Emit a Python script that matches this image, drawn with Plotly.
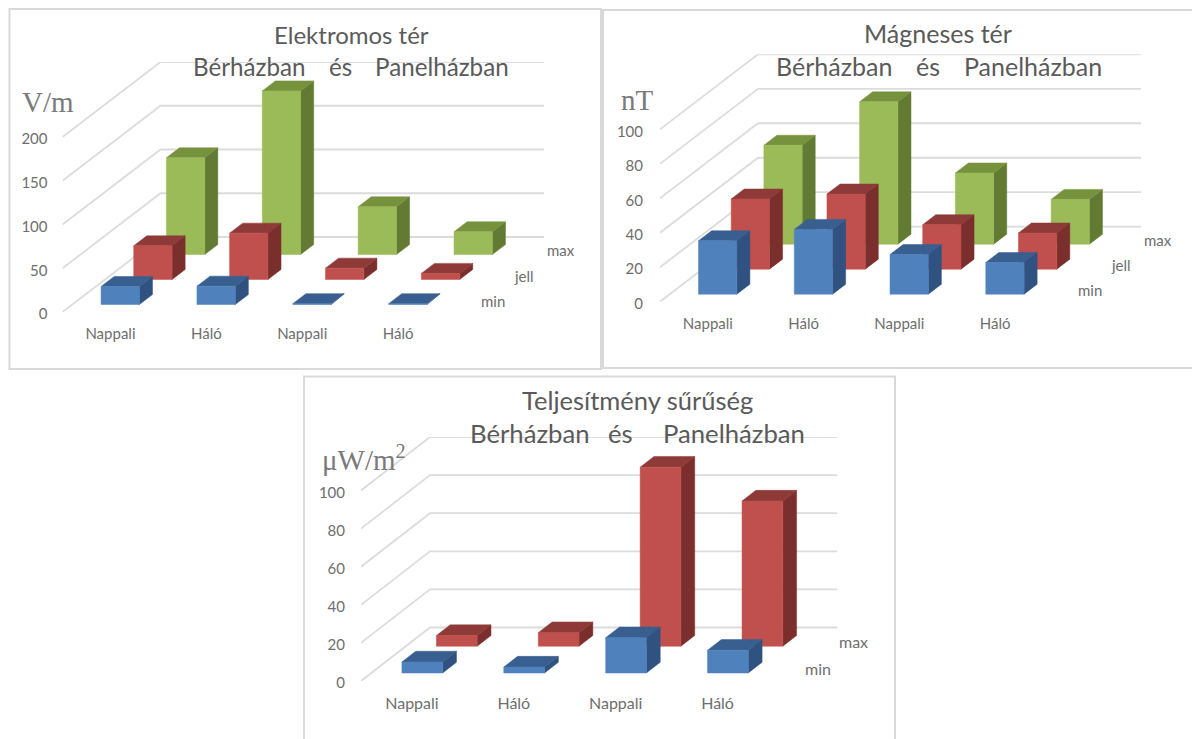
import plotly.graph_objects as go

W, H = 1192, 739
categories = ["Nappali", "Háló", "Nappali", "Háló"]

# values; series listed from front (min) to back (max)
e_min = [20.5, 21, 1, 1]
e_jell = [38.5, 53, 13, 7]
e_max = [110.5, 187, 54.5, 26]
e_ticks = [0, 50, 100, 150, 200]

m_min = [31, 37.6, 23, 18.4]
m_jell = [40.7, 43.6, 25.8, 21]
m_max = [57.4, 82.6, 41.3, 26]
m_ticks = [0, 20, 40, 60, 80, 100]

p_min = [5.8, 3.1, 18.5, 11.9]
p_max = [5.6, 7.1, 94, 76.2]
p_ticks = [0, 20, 40, 60, 80, 100]

GREY_TXT = "#6e6e6e"
TITLE_TXT = "#5a5a5a"
GRID = "#dcdcdc"
FRAME = "#d9d9d9"
SANS = "Lato"
SERIF = "Liberation Serif"

BLUE = ("#4f81bd", "#385f8f", "#2f5280")
RED = ("#c0504d", "#8e3a38", "#7b2f2d")
GREEN = ("#9bbb59", "#76923c", "#627a32")

panels = [
    dict(names=["min", "jell", "max"], colors=[BLUE, RED, GREEN], vals=[e_min, e_jell, e_max], ticks=e_ticks,
         x0=62.5, x1=544, ybase=312, ytop=62, dx=98, dy=75, vmax=200,
         cat_size=15, standoff_y=14, standoff_x=11),
    dict(names=["min", "jell", "max"], colors=[BLUE, RED, GREEN], vals=[m_min, m_jell, m_max], ticks=m_ticks,
         x0=660, x1=1141, ybase=301.7, ytop=54.3, dx=98, dy=75, vmax=100,
         cat_size=15, standoff_y=16, standoff_x=11),
    dict(names=["min", "max"], colors=[BLUE, RED], vals=[p_min, p_max], ticks=p_ticks,
         x0=361, x1=837.5, ybase=681, ytop=437, dx=69, dy=53.5, vmax=100,
         cat_size=16, standoff_y=15, standoff_x=11),
]

fig = go.Figure()
annotations = []


def poly(target, pts):
    if target:
        target.append((None, None))
    target.extend(pts)


for idx, p in enumerate(panels):
    suffix = "" if idx == 0 else str(idx + 1)
    xref, yref = "x" + suffix, "y" + suffix
    ncat = len(categories)
    slot_px = (p["x1"] - p["x0"] - p["dx"]) / ncat
    px_per_val = (p["ybase"] - p["ytop"] - p["dy"]) / p["vmax"]
    kx = p["dx"] / slot_px
    ky = p["dy"] / px_per_val

    def proj(c, v, t):
        return (c + t * kx, v + t * ky)

    # gridlines: side wall then back wall
    gx, gy = [], []
    for v in p["ticks"]:
        for pt in (proj(0, v, 0), proj(0, v, 1), proj(ncat, v, 1)):
            gx.append(pt[0])
            gy.append(pt[1])
        gx.append(None)
        gy.append(None)
    fig.add_trace(go.Scatter(x=gx, y=gy, mode="lines", xaxis=xref, yaxis=yref,
                             line=dict(color=GRID, width=1.8), hoverinfo="skip", showlegend=False))

    n = len(p["names"])
    # back series first so nearer bars cover them
    for s in reversed(range(n)):
        name = p["names"][s]
        shade = p["colors"][s]
        t0, t1 = (s + 0.3) / n, (s + 0.7) / n
        front, top, side = [], [], []
        for i, v in enumerate(p["vals"][s]):
            a, b = i + 0.3, i + 0.7
            poly(front, [proj(a, 0, t0), proj(b, 0, t0), proj(b, v, t0), proj(a, v, t0), proj(a, 0, t0)])
            poly(top, [proj(a, v, t0), proj(b, v, t0), proj(b, v, t1), proj(a, v, t1), proj(a, v, t0)])
            poly(side, [proj(b, 0, t0), proj(b, 0, t1), proj(b, v, t1), proj(b, v, t0), proj(b, 0, t0)])
        for pts, colr in zip((side, top, front), (shade[2], shade[1], shade[0])):
            fig.add_trace(go.Scatter(x=[q[0] for q in pts], y=[q[1] for q in pts], mode="lines",
                                     fill="toself", fillcolor=colr, line=dict(color=colr, width=0.5),
                                     name=name, xaxis=xref, yaxis=yref, showlegend=False))
        # series label beside the floor, at the middle of its depth slot
        lx, ly = proj(ncat, 0, (s + 0.5) / n)
        annotations.append(dict(x=lx, y=ly, xref=xref, yref=yref, text=name, showarrow=False,
                                xanchor="left", yanchor="middle", xshift=17, yshift=-1,
                                font=dict(family=SANS, size=p["cat_size"], color=GREY_TXT)))

    fig.layout["xaxis" + suffix] = dict(
        domain=[p["x0"] / W, p["x1"] / W], range=[0, ncat + kx], anchor=yref, automargin=False,
        tickmode="array", tickvals=[i + 0.5 for i in range(ncat)], ticktext=categories,
        showgrid=False, zeroline=False, showline=False, ticks="", ticklabelstandoff=p["standoff_x"],
        tickfont=dict(family=SANS, size=p["cat_size"], color=GREY_TXT), fixedrange=True)
    fig.layout["yaxis" + suffix] = dict(
        domain=[1 - p["ybase"] / H, 1 - p["ytop"] / H], range=[0, p["vmax"] + ky], anchor=xref, automargin=False,
        tickmode="array", tickvals=p["ticks"], showgrid=False, zeroline=False, showline=False,
        ticks="", ticklabelstandoff=p["standoff_y"], ticklabelshift=2,
        tickfont=dict(family=SANS, size=15, color=GREY_TXT), fixedrange=True)


def label(text, cx, cy, size, family=SANS, color=TITLE_TXT):
    annotations.append(dict(x=cx / W, y=1 - cy / H, xref="paper", yref="paper", text=text,
                            showarrow=False, xanchor="center", yanchor="middle",
                            font=dict(family=family, size=size, color=color)))


label("Elektromos tér", 351, 34.5, 24)
label("Bérházban", 249.5, 67, 24.2)
label("és", 340, 67, 24.2)
label("Panelházban", 441.5, 67, 24.2)
label("Mágneses tér", 938, 33, 25)
label("Bérházban", 834, 66, 25)
label("és", 928, 66, 25)
label("Panelházban", 1033, 66, 25)
label("Teljesítmény sűrűség", 637, 400, 25.5)
label("Bérházban", 529.5, 433, 25.7)
label("és", 620.5, 433, 25.7)
label("Panelházban", 733.5, 433, 25.7)
label("V/m", 47.5, 102, 29, SERIF, "#7a7a7a")
label("nT", 637, 100, 29, SERIF, "#7a7a7a")
label("μW/m<sup>2</sup>", 364, 458, 29, SERIF, "#7a7a7a")


def rect(x0, y0, x1, y1):
    return dict(type="rect", xref="paper", yref="paper", x0=x0 / W, x1=x1 / W,
                y0=1 - y1 / H, y1=1 - y0 / H, line=dict(color=FRAME, width=2), layer="below")


fig.update_layout(
    width=W, height=H, autosize=False, margin=dict(l=0, r=0, t=0, b=0),
    paper_bgcolor="white", plot_bgcolor="rgba(0,0,0,0)", showlegend=False,
    annotations=annotations,
    shapes=[rect(9.5, 9, 601, 369), rect(603, 10, 1210, 368), rect(304, 376.5, 895, 760)],
)

fig.write_html("out.html", config=dict(displayModeBar=False, responsive=False),
               post_script="document.body.style.margin='0';document.body.style.overflow='hidden';")
